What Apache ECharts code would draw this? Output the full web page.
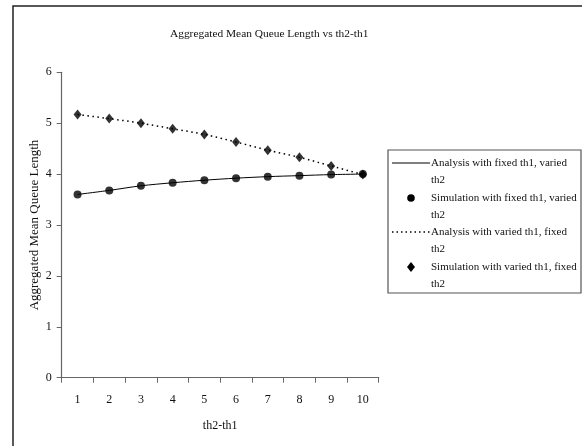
<!DOCTYPE html>
<html>
<head>
<meta charset="utf-8">
<script src="https://cdn.jsdelivr.net/npm/echarts@6/dist/echarts.min.js"></script>
<style>
  html, body { margin: 0; padding: 0; background: #fff; }
  #chart { width: 582px; height: 446px; }
</style>
</head>
<body>
<div id="chart"></div>
<script>
// th2 - th1 gap values on the horizontal axis
const categories = ['1', '2', '3', '4', '5', '6', '7', '8', '9', '10'];

// Fixed th1, varied th2
const analysisFixedTh1 = [3.60, 3.68, 3.77, 3.83, 3.88, 3.92, 3.95, 3.97, 3.99, 4.00];
const simulationFixedTh1 = [3.60, 3.68, 3.77, 3.83, 3.88, 3.92, 3.95, 3.97, 3.99, 4.00];

// Varied th1, fixed th2
const analysisVariedTh1 = [5.17, 5.09, 5.00, 4.89, 4.78, 4.63, 4.47, 4.33, 4.16, 3.99];
const simulationVariedTh1 = [5.17, 5.09, 5.00, 4.89, 4.78, 4.63, 4.47, 4.33, 4.16, 3.99];

const yTicks = [0, 1, 2, 3, 4, 5, 6];

const legendLabels = [
  ['Analysis with fixed th1, varied', 'th2'],
  ['Simulation with fixed th1, varied', 'th2'],
  ['Analysis with varied th1, fixed', 'th2'],
  ['Simulation with varied th1, fixed', 'th2']
];

const FONT = '"Liberation Serif", "Times New Roman", serif';
const chart = echarts.init(document.getElementById('chart'));

// Legend block drawn as graphic elements
const legendX = 388, legendY = 150;
const rowY = [163, 198, 232, 267];
const legendGraphics = [
  {
    type: 'rect',
    shape: { x: legendX, y: legendY, width: 193, height: 143 },
    style: { fill: '#fff', stroke: '#555', lineWidth: 1.2 }
  },
  {
    type: 'line',
    shape: { x1: 392, y1: rowY[0], x2: 430, y2: rowY[0] },
    style: { stroke: '#000', lineWidth: 1 }
  },
  {
    type: 'circle',
    shape: { cx: 411, cy: rowY[1], r: 3.8 },
    style: { fill: '#000' }
  },
  {
    type: 'line',
    shape: { x1: 392, y1: rowY[2], x2: 430, y2: rowY[2] },
    style: { stroke: '#000', lineWidth: 1.5, lineDash: [1.5, 3] }
  },
  {
    type: 'polygon',
    shape: { points: [[411, rowY[3] - 5], [415, rowY[3]], [411, rowY[3] + 5], [407, rowY[3]]] },
    style: { fill: '#000' }
  }
];
legendLabels.forEach((lines, i) => {
  lines.forEach((t, j) => {
    legendGraphics.push({
      type: 'text',
      x: 431,
      y: rowY[i] + j * 17,
      style: {
        text: t,
        font: '11px ' + FONT,
        fill: '#111',
        textVerticalAlign: 'middle',
        textAlign: 'left'
      }
    });
  });
});

chart.setOption({
  animation: false,
  backgroundColor: '#fff',
  title: {
    text: 'Aggregated Mean Queue Length vs th2-th1',
    left: 165,
    top: 24,
    textStyle: { fontFamily: FONT, fontSize: 11.4, fontWeight: 'normal', color: '#111' }
  },
  grid: { left: 61.7, right: 203.3, top: 72.3, bottom: 68.3, containLabel: false },
  xAxis: {
    type: 'category',
    data: categories,
    boundaryGap: true,
    name: 'th2-th1',
    nameLocation: 'middle',
    nameGap: 42,
    nameMoveOverlap: false,
    nameTextStyle: { fontFamily: FONT, fontSize: 12, color: '#111' },
    axisLine: { lineStyle: { color: '#666', width: 1.2 } },
    axisTick: { show: true, alignWithLabel: false, length: 5, lineStyle: { color: '#666' } },
    axisLabel: { fontFamily: FONT, fontSize: 12, color: '#111', margin: 16 },
    splitLine: { show: false }
  },
  yAxis: {
    type: 'value',
    min: yTicks[0],
    max: yTicks[yTicks.length - 1],
    interval: 1,
    name: 'Aggregated Mean Queue Length',
    nameLocation: 'middle',
    nameGap: 21,
    nameMoveOverlap: false,
    nameRotate: 90,
    nameTextStyle: { fontFamily: FONT, fontSize: 13, color: '#111' },
    axisLine: { show: true, lineStyle: { color: '#666', width: 1.2 } },
    axisTick: { show: true, length: 5, lineStyle: { color: '#666' } },
    axisLabel: { fontFamily: FONT, fontSize: 12, color: '#111', margin: 10 },
    splitLine: { show: false }
  },
  series: [
    {
      name: 'Analysis with fixed th1, varied th2',
      type: 'line',
      data: analysisFixedTh1,
      smooth: 0.3,
      showSymbol: false,
      lineStyle: { color: '#000', width: 1 },
      z: 2
    },
    {
      name: 'Simulation with fixed th1, varied th2',
      type: 'scatter',
      data: simulationFixedTh1,
      symbol: 'circle',
      symbolSize: 8,
      itemStyle: { color: '#000' },
      z: 3
    },
    {
      name: 'Analysis with varied th1, fixed th2',
      type: 'line',
      data: analysisVariedTh1,
      smooth: 0.3,
      showSymbol: false,
      lineStyle: { color: '#000', width: 1.5, type: [1.5, 3.5] },
      z: 2
    },
    {
      name: 'Simulation with varied th1, fixed th2',
      type: 'scatter',
      data: simulationVariedTh1,
      symbol: 'diamond',
      symbolSize: [8, 10],
      itemStyle: { color: '#000' },
      z: 3
    }
  ],
  graphic: [
    {
      type: 'group',
      children: [
        {
          // outer chart frame (extends past the canvas on the right and bottom)
          type: 'rect',
          shape: { x: 13, y: 6, width: 600, height: 480 },
          style: { fill: 'none', stroke: '#222', lineWidth: 1.5 },
          z: 100
        }
      ]
    },
    { type: 'group', children: legendGraphics }
  ]
});
</script>
</body>
</html>
